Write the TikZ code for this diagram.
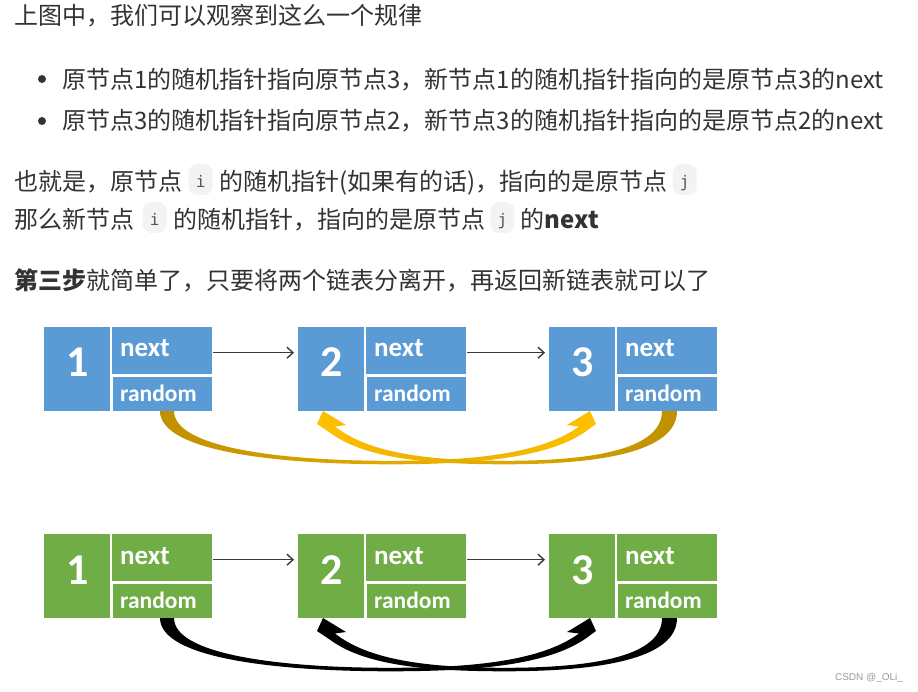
\documentclass[tikz,border=0pt]{standalone}
\usepackage{fontspec}
\setmainfont{Noto Sans CJK SC}
\newfontfamily\carl{Carlito}
\newfontfamily\monof{DejaVu Sans Mono}
\newfontfamily\wmf{Liberation Sans}
\usetikzlibrary{arrows.meta}
\definecolor{nodeblue}{HTML}{5B9BD5}
\definecolor{nodegreen}{HTML}{70AD47}
\definecolor{golddark}{HTML}{BF9000}
\definecolor{goldbright}{HTML}{FFC000}
\definecolor{txt}{HTML}{333333}
\definecolor{chipbg}{HTML}{F2F3F5}
\definecolor{chiptxt}{HTML}{555555}
\definecolor{arrowgray}{HTML}{3A3A3A}
\definecolor{wmgray}{HTML}{999999}
\begin{document}
\begin{tikzpicture}[x=1pt,y=-1pt,
  bodytext/.style={anchor=base west, inner sep=0pt, text=txt, font=\fontsize{24pt}{28pt}\selectfont},
  chip/.style={anchor=base west, fill=chipbg, rounded corners=9pt, inner xsep=0pt, inner ysep=4pt,
    minimum width=24pt, text height=23pt, text depth=0pt, align=center, text=chiptxt,
    font=\monof\fontsize{16pt}{18pt}\selectfont},
  bulletdot/.style={circle, fill=txt, inner sep=0pt, minimum size=8pt},
  cell/.style={anchor=north west, inner sep=0pt, draw=none},
  bigcell/.style={cell, minimum width=66pt, minimum height=84pt},
  nextcell/.style={cell, minimum width=100pt, minimum height=47pt},
  randcell/.style={cell, minimum width=99pt, minimum height=34pt},
  digit/.style={anchor=base, text=white, inner sep=0pt, font=\carl\bfseries\fontsize{44pt}{44pt}\selectfont},
  nlbl/.style={anchor=base west, text=white, inner sep=0pt, font=\carl\bfseries\fontsize{27pt}{27pt}\selectfont},
  rlbl/.style={anchor=base west, text=white, inner sep=0pt, font=\carl\bfseries\fontsize{23.5pt}{23.5pt}\selectfont},
  nextarr/.style={draw=arrowgray, line width=1.4pt, -{Straight Barb[length=6pt,width=11pt]}, shorten >=4pt, shorten <=1pt},
  arrA-gold/.style={left color=golddark, right color=goldbright},
  arrB-gold/.style={left color=goldbright, right color=golddark},
  arrA-black/.style={fill=black},
  arrB-black/.style={fill=black}
]
\fill[white] (0,0) rectangle (918,692);
\useasboundingbox (0,0) rectangle (918,692);

% ---------- text ----------
\node[bodytext] (t1) at (14,25) {上图中，我们可以观察到这么一个规律};
\node[bulletdot] (d1) at (42,79) {};
\node[bodytext] (t2) at (62,89) {原节点1的随机指针指向原节点3，新节点1的随机指针指向的是原节点3的next};
\node[bulletdot] (d2) at (42,121) {};
\node[bodytext] (t3) at (62,130) {原节点3的随机指针指向原节点2，新节点3的随机指针指向的是原节点2的next};

\node[bodytext] (t4a) at (14,191) {也就是，原节点};
\node[chip] (c4a) at ([xshift=6pt]t4a.base east) {\raisebox{3pt}{i}};
\node[bodytext] (t4b) at ([xshift=6pt]c4a.base east) {的随机指针(如果有的话)，指向的是原节点};
\node[chip] (c4b) at ([xshift=5pt]t4b.base east) {\raisebox{3pt}{j}};

\node[bodytext] (t5a) at (14,229) {那么新节点};
\node[chip] (c5a) at ([xshift=8pt]t5a.base east) {\raisebox{3pt}{i}};
\node[bodytext] (t5b) at ([xshift=6pt]c5a.base east) {的随机指针，指向的是原节点};
\node[chip] (c5b) at ([xshift=5pt]t5b.base east) {\raisebox{3pt}{j}};
\node[bodytext] (t5c) at ([xshift=6pt]c5b.base east) {的\textbf{next}};

\node[bodytext] (t6) at (14,290) {\textbf{第三步}就简单了，只要将两个链表分离开，再返回新链表就可以了};

% ---------- lists ----------
\foreach \row/\pre/\col/\top in {blue/b/nodeblue/327, green/g/nodegreen/534} {
  \foreach \i/\L in {1/44, 2/298, 3/549} {
    \node[bigcell, fill=\col] (\pre\i) at (\L,\top) {};
    \node[nextcell, fill=\col] (\pre n\i) at (\L+68,\top) {};
    \node[randcell, fill=\col] (\pre r\i) at (\L+69,\top+50) {};
    \node[digit] (\pre d\i) at ([yshift=-50pt]\pre\i.north) {\i};
    \node[nlbl] (\pre nl\i) at ([xshift=8pt,yshift=-30pt]\pre n\i.north west) {next};
    \node[rlbl] (\pre rl\i) at ([xshift=7pt,yshift=-24pt]\pre r\i.north west) {random};
  }
  \coordinate (\pre s1) at ([yshift=-2pt]\pre n1.east);
  \coordinate (\pre s2) at ([yshift=-2pt]\pre n2.east);
  \draw[nextarr] (\pre s1) -- (\pre s1 -| \pre2.west);
  \draw[nextarr] (\pre s2) -- (\pre s2 -| \pre3.west);
}

% ---------- random pointers ----------
\foreach \sty/\ys in {gold/0, black/207} {
\begin{scope}[yshift=-\ys pt]
  % node 1 random -> node 3
  \path[arrA-\sty] (160,411) .. controls (160,452) and (280,464.3) .. (390,464.3)
     .. controls (482,464.3) and (548,457) .. (585,432)
     -- (596,424) -- (590,411) -- (567,425) -- (579,426.5)
     .. controls (543,452.5) and (480,460.8) .. (390,460.8)
     .. controls (282,460.8) and (174,448) .. (174,411) -- cycle;
  % node 3 random -> node 2
  \path[arrB-\sty] (677,411) .. controls (677,452) and (600,464.3) .. (505,464.3)
     .. controls (420,464.3) and (362,457) .. (329,432)
     -- (317,424) -- (323,411) -- (346,425) -- (335,426.5)
     .. controls (368,452.5) and (425,460.8) .. (505,460.8)
     .. controls (598,460.8) and (662,448) .. (662,411) -- cycle;
\end{scope}
}

\node[text=wmgray, font=\wmf\fontsize{10pt}{12pt}\selectfont, inner sep=0pt] (wm) at (869,678) {CSDN @\_OLi\_};
\end{tikzpicture}
\end{document}
